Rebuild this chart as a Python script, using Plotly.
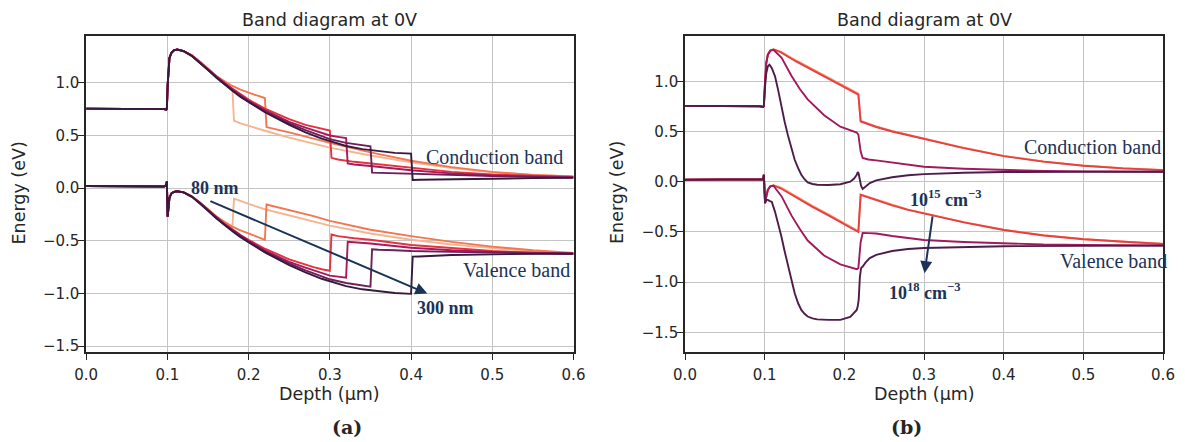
import plotly.graph_objects as go

# ---------------- Panel (a): absorber thickness series ----------------
thick_labels = ["80 nm", "120 nm", "200 nm", "220 nm", "250 nm", "300 nm"]
thick_colors = ["#f6b48f", "#f37651", "#e13342", "#ad1759", "#701f57", "#35193e"]

# shared front part (window layer + front interface)
xa_front = [0.0, 0.05, 0.09, 0.096, 0.0985, 0.0993, 0.1003, 0.1012, 0.1025, 0.105, 0.108, 0.112]
cba_front = [0.755, 0.755, 0.754, 0.75, 0.745, 0.75, 0.98, 1.15, 1.235, 1.285, 1.308, 1.315]
vba_front = [0.02, 0.02, 0.019, 0.016, 0.03, 0.065, -0.27, -0.17, -0.09, -0.05, -0.035, -0.03]

xa_80 = [0.12, 0.13, 0.14, 0.15, 0.16, 0.17, 0.18, 0.182, 0.19, 0.20, 0.22, 0.25, 0.28, 0.30, 0.35, 0.40, 0.45, 0.50, 0.55, 0.60]
cba_80 = [1.30, 1.26, 1.20, 1.13, 1.06, 0.995, 0.936, 0.64, 0.615, 0.59, 0.545, 0.48, 0.42, 0.385, 0.31, 0.245, 0.19, 0.15, 0.125, 0.11]
vba_80 = [-0.04, -0.08, -0.135, -0.20, -0.265, -0.32, -0.37, -0.10, -0.125, -0.15, -0.20, -0.26, -0.32, -0.355, -0.43, -0.49, -0.535, -0.57, -0.60, -0.62]

xa_120 = [0.12, 0.13, 0.14, 0.15, 0.16, 0.17, 0.18, 0.19, 0.20, 0.21, 0.22, 0.222, 0.23, 0.25, 0.28, 0.30, 0.35, 0.40, 0.45, 0.50, 0.55, 0.60]
cba_120 = [1.30, 1.26, 1.20, 1.135, 1.065, 1.015, 0.97, 0.935, 0.905, 0.88, 0.855, 0.58, 0.565, 0.53, 0.47, 0.43, 0.34, 0.26, 0.20, 0.155, 0.125, 0.11]
vba_120 = [-0.04, -0.08, -0.135, -0.20, -0.27, -0.32, -0.365, -0.40, -0.43, -0.46, -0.49, -0.155, -0.17, -0.205, -0.265, -0.31, -0.395, -0.455, -0.51, -0.555, -0.59, -0.615]

xa_200 = [0.12, 0.13, 0.14, 0.15, 0.16, 0.17, 0.18, 0.19, 0.20, 0.22, 0.25, 0.27, 0.28, 0.29, 0.30, 0.302, 0.31, 0.33, 0.35, 0.40, 0.45, 0.50, 0.55, 0.60]
cba_200 = [1.30, 1.26, 1.20, 1.13, 1.065, 1.00, 0.945, 0.89, 0.84, 0.755, 0.655, 0.60, 0.58, 0.56, 0.547, 0.2875, 0.272, 0.25, 0.234, 0.19, 0.155, 0.13, 0.115, 0.106]
vba_200 = [-0.04, -0.08, -0.135, -0.205, -0.27, -0.335, -0.39, -0.445, -0.49, -0.575, -0.675, -0.73, -0.75, -0.77, -0.784, -0.44, -0.455, -0.475, -0.49, -0.54, -0.57, -0.597, -0.612, -0.62]

xa_220 = [0.12, 0.13, 0.14, 0.15, 0.16, 0.17, 0.18, 0.19, 0.20, 0.22, 0.25, 0.27, 0.29, 0.30, 0.31, 0.32, 0.322, 0.33, 0.35, 0.40, 0.45, 0.50, 0.55, 0.60]
cba_220 = [1.30, 1.258, 1.197, 1.127, 1.06, 0.995, 0.938, 0.882, 0.83, 0.74, 0.63, 0.575, 0.52, 0.50, 0.487, 0.475, 0.234, 0.225, 0.21, 0.17, 0.14, 0.12, 0.11, 0.105]
vba_220 = [-0.04, -0.08, -0.14, -0.21, -0.275, -0.34, -0.395, -0.45, -0.50, -0.59, -0.70, -0.755, -0.81, -0.83, -0.84, -0.85, -0.51, -0.515, -0.525, -0.566, -0.59, -0.605, -0.615, -0.622]

xa_250 = [0.12, 0.13, 0.14, 0.15, 0.16, 0.17, 0.18, 0.19, 0.20, 0.22, 0.25, 0.27, 0.29, 0.30, 0.32, 0.34, 0.35, 0.352, 0.36, 0.38, 0.40, 0.45, 0.50, 0.55, 0.60]
cba_250 = [1.30, 1.256, 1.193, 1.123, 1.055, 0.99, 0.93, 0.874, 0.82, 0.73, 0.615, 0.55, 0.49, 0.465, 0.43, 0.405, 0.397, 0.147, 0.145, 0.142, 0.138, 0.125, 0.115, 0.107, 0.10]
vba_250 = [-0.04, -0.08, -0.14, -0.21, -0.28, -0.345, -0.40, -0.455, -0.51, -0.60, -0.715, -0.78, -0.84, -0.865, -0.90, -0.925, -0.935, -0.58, -0.585, -0.59, -0.597, -0.605, -0.612, -0.62, -0.625]

xa_300 = [0.12, 0.13, 0.14, 0.15, 0.16, 0.17, 0.18, 0.19, 0.20, 0.22, 0.25, 0.27, 0.29, 0.30, 0.32, 0.34, 0.36, 0.38, 0.40, 0.402, 0.41, 0.43, 0.45, 0.50, 0.55, 0.60]
cba_300 = [1.30, 1.255, 1.19, 1.12, 1.05, 0.985, 0.925, 0.866, 0.815, 0.72, 0.60, 0.53, 0.47, 0.445, 0.40, 0.37, 0.35, 0.335, 0.328, 0.078, 0.08, 0.083, 0.085, 0.09, 0.095, 0.098]
vba_300 = [-0.04, -0.08, -0.145, -0.215, -0.285, -0.35, -0.41, -0.465, -0.515, -0.61, -0.73, -0.80, -0.86, -0.885, -0.93, -0.96, -0.98, -0.995, -1.003, -0.65, -0.648, -0.64, -0.635, -0.628, -0.622, -0.62]

# ---------------- Panel (b): doping series ----------------
dop_labels = ["1e15", "1e16", "1e17", "1e18"]
dop_colors = ["#f59c74", "#e83f3f", "#a11a5b", "#4c1d4b"]

xb_15 = [0.0, 0.05, 0.08, 0.094, 0.098, 0.099, 0.1005, 0.102, 0.104, 0.107, 0.111, 0.12, 0.14, 0.16, 0.18, 0.20, 0.2176, 0.2205, 0.23, 0.24, 0.26, 0.28, 0.30, 0.35, 0.40, 0.45, 0.50, 0.55, 0.60]
cbb_15 = [0.755, 0.755, 0.755, 0.752, 0.745, 0.755, 1.0, 1.18, 1.265, 1.305, 1.318, 1.295, 1.205, 1.12, 1.035, 0.95, 0.877, 0.605, 0.578, 0.55, 0.505, 0.467, 0.433, 0.338, 0.258, 0.202, 0.161, 0.134, 0.117]
vbb_15 = [0.02, 0.02, 0.02, 0.018, 0.025, 0.07, -0.213, -0.15, -0.08, -0.046, -0.035, -0.055, -0.15, -0.24, -0.325, -0.415, -0.49, -0.127, -0.152, -0.177, -0.232, -0.277, -0.312, -0.402, -0.477, -0.532, -0.57, -0.598, -0.618]

xb_16 = [0.0, 0.05, 0.08, 0.094, 0.098, 0.099, 0.1005, 0.102, 0.104, 0.107, 0.111, 0.12, 0.14, 0.16, 0.18, 0.20, 0.2176, 0.2205, 0.23, 0.24, 0.26, 0.28, 0.30, 0.35, 0.40, 0.45, 0.50, 0.55, 0.60]
cbb_16 = [0.755, 0.755, 0.755, 0.752, 0.745, 0.755, 1.0, 1.18, 1.265, 1.305, 1.316, 1.29, 1.195, 1.11, 1.025, 0.94, 0.867, 0.60, 0.572, 0.545, 0.50, 0.463, 0.43, 0.335, 0.255, 0.20, 0.159, 0.133, 0.116]
vbb_16 = [0.02, 0.02, 0.02, 0.018, 0.025, 0.07, -0.213, -0.15, -0.08, -0.046, -0.037, -0.065, -0.16, -0.25, -0.335, -0.425, -0.50, -0.13, -0.155, -0.18, -0.235, -0.28, -0.315, -0.405, -0.48, -0.535, -0.573, -0.60, -0.62]

xb_17 = [0.0, 0.05, 0.08, 0.094, 0.098, 0.099, 0.1005, 0.102, 0.104, 0.107, 0.111, 0.1213, 0.1336, 0.1439, 0.154, 0.1746, 0.195, 0.2156, 0.2176, 0.2205, 0.223, 0.23, 0.24, 0.26, 0.28, 0.30, 0.35, 0.40, 0.45, 0.50, 0.60]
cbb_17 = [0.755, 0.755, 0.755, 0.752, 0.745, 0.755, 1.0, 1.18, 1.265, 1.305, 1.314, 1.233, 1.055, 0.925, 0.82, 0.662, 0.548, 0.49, 0.47, 0.30, 0.236, 0.222, 0.213, 0.19, 0.17, 0.149, 0.13, 0.116, 0.108, 0.103, 0.10]
vbb_17 = [0.02, 0.02, 0.02, 0.018, 0.025, 0.07, -0.213, -0.15, -0.08, -0.046, -0.04, -0.146, -0.335, -0.468, -0.585, -0.735, -0.823, -0.87, -0.86, -0.60, -0.51, -0.512, -0.515, -0.54, -0.562, -0.58, -0.60, -0.615, -0.625, -0.628, -0.635]

xb_18 = [0.0, 0.05, 0.08, 0.094, 0.098, 0.099, 0.1005, 0.102, 0.104, 0.106, 0.109, 0.113, 0.117, 0.121, 0.125, 0.1295, 0.1335, 0.1377, 0.142, 0.146, 0.15, 0.154, 0.16, 0.166, 0.18, 0.195, 0.2074, 0.212, 0.2156, 0.2168, 0.218, 0.2195, 0.221, 0.223, 0.227, 0.232, 0.24, 0.26, 0.28, 0.30, 0.35, 0.40, 0.50, 0.60]
cbb_18 = [0.755, 0.755, 0.755, 0.752, 0.745, 0.755, 0.95, 1.08, 1.15, 1.166, 1.13, 1.05, 0.91, 0.75, 0.60, 0.452, 0.33, 0.219, 0.135, 0.07, 0.025, -0.007, -0.022, -0.03, -0.032, -0.025, 0.0, 0.03, 0.07, 0.096, 0.08, 0.02, -0.04, -0.073, -0.045, -0.013, 0.013, 0.045, 0.065, 0.076, 0.09, 0.097, 0.10, 0.10]
vbb_18 = [0.02, 0.02, 0.02, 0.018, 0.025, 0.07, -0.213, -0.18, -0.18, -0.19, -0.2, -0.30, -0.42, -0.545, -0.69, -0.844, -0.98, -1.11, -1.21, -1.276, -1.315, -1.342, -1.36, -1.37, -1.375, -1.375, -1.345, -1.31, -1.276, -1.24, -1.176, -0.95, -0.86, -0.844, -0.80, -0.76, -0.728, -0.69, -0.67, -0.66, -0.648, -0.642, -0.638, -0.636]

# ---------------- build figure ----------------
fig = go.Figure()
LW = 1.9

a_series = [(xa_80, cba_80, vba_80), (xa_120, cba_120, vba_120), (xa_200, cba_200, vba_200),
            (xa_220, cba_220, vba_220), (xa_250, cba_250, vba_250), (xa_300, cba_300, vba_300)]
for (xs, cb, vb), col, lab in zip(a_series, thick_colors, thick_labels):
    xx = xa_front + xs
    fig.add_trace(go.Scatter(x=xx, y=cba_front + cb, mode="lines", line=dict(color=col, width=LW),
                             name=lab + " CB", showlegend=False, xaxis="x", yaxis="y"))
    fig.add_trace(go.Scatter(x=xx, y=vba_front + vb, mode="lines", line=dict(color=col, width=LW),
                             name=lab + " VB", showlegend=False, xaxis="x", yaxis="y"))

b_series = [(xb_15, cbb_15, vbb_15), (xb_16, cbb_16, vbb_16), (xb_17, cbb_17, vbb_17), (xb_18, cbb_18, vbb_18)]
for (xs, cb, vb), col, lab in zip(b_series, dop_colors, dop_labels):
    fig.add_trace(go.Scatter(x=xs, y=cb, mode="lines", line=dict(color=col, width=LW),
                             name=lab + " CB", showlegend=False, xaxis="x2", yaxis="y2"))
    fig.add_trace(go.Scatter(x=xs, y=vb, mode="lines", line=dict(color=col, width=LW),
                             name=lab + " VB", showlegend=False, xaxis="x2", yaxis="y2"))

INK = "#262626"
NAVY = "#1b3358"
axis_common = dict(showgrid=True, gridcolor="#c4c4c4", gridwidth=1.2, zeroline=False,
                   showline=True, linecolor=INK, linewidth=1.6, mirror=True,
                   ticks="outside", ticklen=6, tickwidth=1.3, tickcolor=INK,
                   tickfont=dict(family="DejaVu Sans", size=15, color=INK),
                   tickformat=".1f")
xstyle = dict(axis_common, ticklabelstandoff=2)
ystyle = dict(axis_common, ticklabelstandoff=-4)

# page body has an 8px margin; positions below are the reference's pixels minus 8
W, H = 1177, 434
fig.update_layout(
    width=W, height=H, margin=dict(l=0, r=0, t=0, b=0, autoexpand=False),
    paper_bgcolor="white", plot_bgcolor="white", showlegend=False,
    xaxis=dict(domain=[78.2 / W, 565.5 / W], range=[0, 0.6], dtick=0.1, anchor="y", **xstyle),
    yaxis=dict(domain=[1 - 344 / H, 1 - 27.8 / H], range=[-1.555, 1.446], dtick=0.5, anchor="x", **ystyle),
    xaxis2=dict(domain=[677 / W, 1155 / W], range=[0, 0.6], dtick=0.1, anchor="y2", **xstyle),
    yaxis2=dict(domain=[1 - 344 / H, 1 - 27.8 / H], range=[-1.695, 1.453], dtick=0.5, anchor="x2", **ystyle),
)

ann = []
title_font = dict(family="DejaVu Sans", size=17.5, color=INK)
lab_font = dict(family="DejaVu Sans", size=17.5, color=INK)
for xc, ex in [(321.9 / W, 10.5 / W), (916 / W, 609 / W)]:
    ann.append(dict(text="Band diagram at 0V", x=xc, y=1 - 12 / H, xref="paper", yref="paper",
                    showarrow=False, font=title_font, xanchor="center", yanchor="middle"))
    ann.append(dict(text="Depth (µm)", x=xc, y=1 - 386 / H, xref="paper", yref="paper",
                    showarrow=False, font=lab_font, xanchor="center", yanchor="middle"))
    ann.append(dict(text="Energy (eV)", x=ex, y=1 - 185 / H, xref="paper", yref="paper", textangle=-90,
                    showarrow=False, font=lab_font, xanchor="center", yanchor="middle"))
ann.append(dict(text="<b>(a)</b>", x=321.9 / W, y=1 - 419 / H, xref="paper", yref="paper", showarrow=False,
                font=dict(family="DejaVu Serif", size=19, color=INK), yanchor="middle"))
ann.append(dict(text="<b>(b)</b>", x=916 / W, y=1 - 419 / H, xref="paper", yref="paper", showarrow=False,
                font=dict(family="DejaVu Serif", size=19, color=INK), yanchor="middle"))

serif = dict(family="Liberation Serif", size=20, color=NAVY)
serif_b = dict(family="Liberation Serif", size=18, color=NAVY)
ann += [
    dict(text="Conduction band", x=0.5026, y=0.298, xref="x", yref="y", showarrow=False, font=serif),
    dict(text="Valence band", x=0.5297, y=-0.778, xref="x", yref="y", showarrow=False, font=serif),
    dict(text="<b>80 nm</b>", x=0.158, y=0.003, xref="x", yref="y", showarrow=False, font=serif_b),
    dict(text="<b>300 nm</b>", x=0.443, y=-1.138, xref="x", yref="y", showarrow=False, font=serif_b),
    dict(text="", x=0.42, y=-1.0, ax=0.151, ay=-0.117, xref="x", yref="y", axref="x", ayref="y",
         showarrow=True, arrowhead=2, arrowsize=1.2, arrowwidth=2, arrowcolor=NAVY),
    dict(text="Conduction band", x=0.511, y=0.342, xref="x2", yref="y2", showarrow=False, font=serif),
    dict(text="Valence band", x=0.5375, y=-0.785, xref="x2", yref="y2", showarrow=False, font=serif),
    dict(text="<b>10<sup>15</sup> cm<sup>−3</sup></b>", x=0.328, y=-0.171, xref="x2", yref="y2",
         showarrow=False, font=serif_b),
    dict(text="<b>10<sup>18</sup> cm<sup>−3</sup></b>", x=0.301, y=-1.097, xref="x2", yref="y2",
         showarrow=False, font=serif_b),
    dict(text="", x=0.3007, y=-0.91, ax=0.311, ay=-0.33, xref="x2", yref="y2", axref="x2", ayref="y2",
         showarrow=True, arrowhead=2, arrowsize=1.2, arrowwidth=2, arrowcolor=NAVY),
]
fig.update_layout(annotations=ann)

fig.write_html("out.html")
